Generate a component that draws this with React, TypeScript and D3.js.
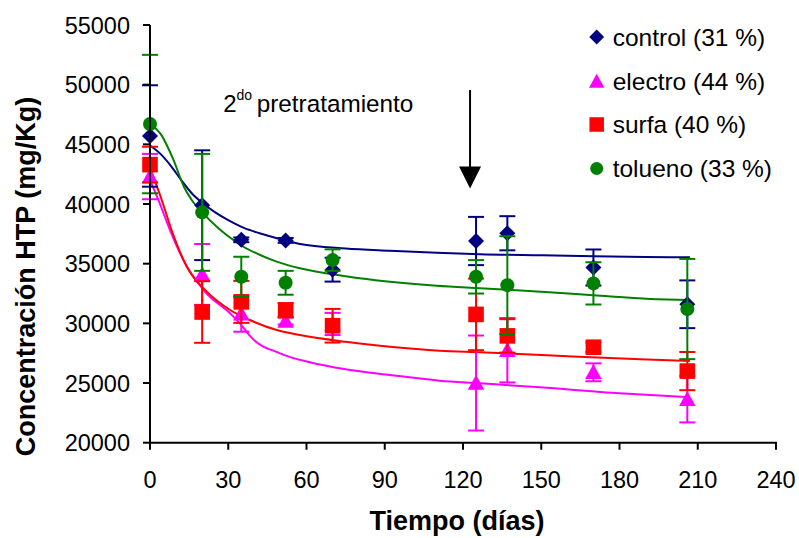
import React from "react";
import * as d3 from "d3";

const W = 799;
const H = 538;

// Measurement days
const days = [0, 20, 35, 52, 70, 125, 137, 170, 206];

// Observed means and error (±) per treatment
const controlMean = [45700, 39900, 37000, 36950, 34500, 36900, 37550, 34680, 31600];
const controlErr = [4250, 4600, 200, 200, 1000, 2020, 1430, 1510, 2000];
const electroMean = [42300, 34100, 30800, 30200, 29950, 25000, 27750, 25900, 23650];
const electroErr = [1900, 2550, 1500, 300, 930, 3980, 2700, 750, 1950];
const surfaMean = [43300, 30950, 31800, 31100, 29800, 30750, 28950, 28000, 26000];
const surfaErr = [1500, 2580, 1760, 600, 1410, 3000, 1400, 400, 1600];
const toluenoMean = [46700, 39300, 33900, 33400, 35300, 33900, 33200, 33350, 31200];
const toluenoErr = [5800, 4900, 1680, 1000, 900, 1400, 4100, 1770, 4200];

// Fitted curves
const controlFitDays = [0, 4, 8, 12, 16, 20, 25, 30, 36, 42, 50, 57.5, 75, 92, 110, 126.5, 150, 170, 190, 207];
const controlFit = [44900, 44200, 43200, 42000, 40900, 40100, 39300, 38650, 38000, 37550, 37050, 36650, 36280, 36090, 35920, 35790, 35700, 35630, 35570, 35530];
const electroFitDays = [0, 3.2, 7.7, 12.8, 21.1, 30.7, 35.8, 38.3, 49.8, 61.3, 75, 92, 111, 126.5, 149.5, 180, 207];
const electroFit = [42000, 40340, 37800, 35300, 32650, 30840, 29650, 28950, 27490, 26740, 26150, 25670, 25200, 24980, 24640, 24140, 23810];
const surfaFitDays = [0, 4.5, 8.3, 14.1, 21.1, 30.7, 38.3, 48.6, 57.5, 75, 92, 111, 126.5, 150, 188, 207];
const surfaFit = [43000, 40340, 37800, 34750, 32800, 31120, 30280, 29440, 29020, 28450, 28040, 27710, 27575, 27350, 26990, 26850];
const toluenoFitDays = [0, 4, 9, 13, 16, 20, 25.6, 30, 35.8, 42, 48.6, 57.5, 75, 92, 110, 126.5, 150, 170, 191.7, 207];
const toluenoFit = [46700, 45900, 43700, 41450, 40340, 39300, 38100, 37300, 36420, 35750, 35170, 34610, 33950, 33490, 33150, 32940, 32650, 32350, 32040, 31950];

const xTicks = [0, 30, 60, 90, 120, 150, 180, 210, 240];
const yTicks = [20000, 25000, 30000, 35000, 40000, 45000, 50000, 55000];

const seriesNames = ["control (31 %)", "electro (44 %)", "surfa (40 %)", "tolueno (33 %)"];
const seriesColors = ["#000080", "#FF00FF", "#FF0000", "#008000"];
const seriesShapes = ["diamond", "triangle", "square", "circle"];

const arrowDay = 122.7;
const arrowTop = 49550;
const arrowTip = 41300;

const FONT = "'Liberation Sans', Arial, sans-serif";

function Marker({ shape, x, y, color, s = 1 }: { shape: string; x: number; y: number; color: string; s?: number }) {
  if (shape === "diamond") {
    const r = 8 * s;
    return <path d={`M${x},${y - r}L${x + r},${y}L${x},${y + r}L${x - r},${y}Z`} fill={color} />;
  }
  if (shape === "triangle") {
    const w = 8.3 * s;
    const h = 15 * s;
    return <path d={`M${x},${y - h * 0.55}L${x + w},${y + h * 0.45}L${x - w},${y + h * 0.45}Z`} fill={color} />;
  }
  if (shape === "square") {
    const r = 7.8 * s;
    return <rect x={x - r} y={y - r} width={2 * r} height={2 * r} fill={color} />;
  }
  return <circle cx={x} cy={y} r={7 * s} fill={color} />;
}

export default function App() {
  const x = d3.scaleLinear().domain([0, 240]).range([150, 776]);
  const y = d3.scaleLinear().domain([20000, 55000]).range([442.7, 25]);

  const means = [controlMean, electroMean, surfaMean, toluenoMean];
  const errs = [controlErr, electroErr, surfaErr, toluenoErr];
  const fitDays = [controlFitDays, electroFitDays, surfaFitDays, toluenoFitDays];
  const fits = [controlFit, electroFit, surfaFit, toluenoFit];

  const line = d3
    .line<[number, number]>()
    .x((d) => x(d[0]))
    .y((d) => y(d[1]))
    .curve(d3.curveMonotoneX);

  const ax = x(arrowDay);
  const aTop = y(arrowTop);
  const aTip = y(arrowTip);

  const legendY = [37, 81.5, 124.5, 168.5];

  return (
    <svg
      width={W}
      height={H}
      style={{ position: "absolute", left: 0, top: 0, background: "#fff" }}
      fontFamily={FONT}
    >
      <rect x={0} y={0} width={W} height={H} fill="#fff" />

      {/* Fitted curves */}
      {fits.map((f, i) => (
        <path
          key={"fit" + i}
          d={line(f.map((v, j) => [fitDays[i][j], v] as [number, number])) || ""}
          fill="none"
          stroke={seriesColors[i]}
          strokeWidth={2}
        />
      ))}

      {/* Error bars and markers */}
      {means.map((m, i) => (
        <g key={"s" + i}>
          {m.map((v, j) => {
            const cx = x(days[j]);
            const top = y(v + errs[i][j]);
            const bot = y(v - errs[i][j]);
            return (
              <g key={j} stroke={seriesColors[i]} strokeWidth={2}>
                <line x1={cx} x2={cx} y1={top} y2={bot} />
                <line x1={cx - 8} x2={cx + 8} y1={top} y2={top} />
                <line x1={cx - 8} x2={cx + 8} y1={bot} y2={bot} />
              </g>
            );
          })}
          {m.map((v, j) => (
            <Marker key={"m" + j} shape={seriesShapes[i]} x={x(days[j])} y={y(v)} color={seriesColors[i]} />
          ))}
        </g>
      ))}

      {/* Axes */}
      <line x1={150} x2={150} y1={y(55000)} y2={y(20000) + 1} stroke="#000" strokeWidth={2} />
      <line x1={149} x2={x(240) + 1} y1={y(20000)} y2={y(20000)} stroke="#000" strokeWidth={2} />
      {yTicks.map((t) => (
        <g key={"yt" + t}>
          <line x1={143} x2={150} y1={y(t)} y2={y(t)} stroke="#000" strokeWidth={2} />
          <text x={130} y={y(t) + 8.5} textAnchor="end" fontSize={23.5} fill="#000">
            {t}
          </text>
        </g>
      ))}
      {xTicks.map((t) => (
        <g key={"xt" + t}>
          <line x1={x(t)} x2={x(t)} y1={y(20000)} y2={y(20000) + 7} stroke="#000" strokeWidth={2} />
          <text x={x(t)} y={488} textAnchor="middle" fontSize={23.5} fill="#000">
            {t}
          </text>
        </g>
      ))}

      {/* Axis titles */}
      <text x={457} y={530} textAnchor="middle" fontSize={27} fontWeight="bold" fill="#000">
        Tiempo (días)
      </text>
      <text
        transform="translate(35,276.5) rotate(-90)"
        textAnchor="middle"
        fontSize={27}
        fontWeight="bold"
        fill="#000"
      >
        Concentración HTP (mg/Kg)
      </text>

      {/* Annotation */}
      <text x={223.3} y={111.7} fontSize={24} fill="#000">
        2
      </text>
      <text x={236.5} y={100} fontSize={14} fill="#000">
        do
      </text>
      <text x={256.7} y={111.7} fontSize={24.3} fill="#000">
        pretratamiento
      </text>
      <line x1={ax} x2={ax} y1={aTop} y2={aTip - 20} stroke="#000" strokeWidth={2} />
      <path d={`M${ax - 11},${aTip - 22}L${ax + 11},${aTip - 22}L${ax},${aTip}Z`} fill="#000" />

      {/* Legend */}
      {seriesNames.map((n, i) => (
        <g key={"lg" + i}>
          <Marker shape={seriesShapes[i]} x={596.7} y={legendY[i]} color={seriesColors[i]} s={0.93} />
          <text x={612.7} y={legendY[i] + 8.5} fontSize={24.5} fill="#000">
            {n}
          </text>
        </g>
      ))}
    </svg>
  );
}
